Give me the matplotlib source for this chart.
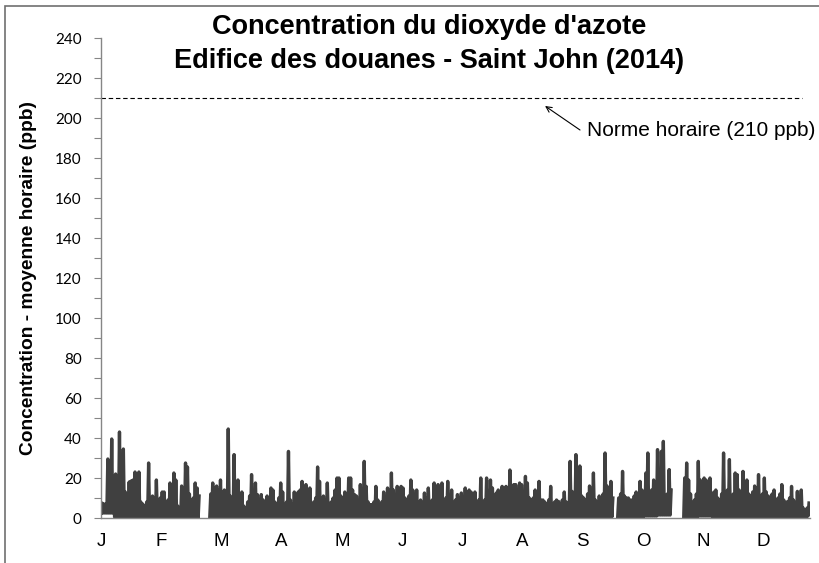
"""
Concentration du dioxyde d'azote - Edifice des douanes, Saint John (2014)
Moyenne horaire, lue jour par jour sur le graphique original.
"""

import matplotlib

matplotlib.use("Agg")
import matplotlib.pyplot as plt
import numpy as np
from matplotlib.patches import Rectangle

# Pic journalier (ppb), jour 0 = 1er janvier ; nan = pas de données
nan = np.nan
daily_peak = [
    7.5, 7, 7, 29.5, 8, 39.5, 10, 22, 12, 43,
    14, 34.5, 13, 12, 18, 18.5, 19, 23, 10, 23,
    8, 7, 6, 8, 27.5, 9, 11, 8, 19, 9,
    10, 13, 13, 8, 9, 17.5, 10, 22.5, 19, 6,
    4, 16, 10, 27.5, 25.5, 12, 8, 10, 17.5, 15,
    11, nan, nan, nan, nan, nan, 12, 17.5, 15, 16,
    14, 19, 12, 14, 10, 44.5, 11, 9, 31.7, 12,
    19, 9, 13, 6, 4, 8, 11, 21.7, 10, 17.5,
    11.7, 7, 11.7, 9, 7, 11, 9, 15, 14, 8,
    7, 10, 17.5, 13, 6, 8, 33.3, 9, 7, 13,
    10, 13, 14, 18.3, 12, 16.7, 6, 15, 6, 8,
    10, 25.5, 18.3, 9, 11, 8, 17.5, 6, 8, 10,
    14, 20, 20, 11, 9, 13, 10, 20, 20, 14,
    11.7, 11, 8, 16.7, 12, 28.3, 15.8, 8, 6.7, 6.7,
    8, 15.8, 9, 5.8, 8, 13, 10, 15, 9, 22.5,
    14, 10, 15.8, 12, 15.8, 15, 10, 7.5, 11, 19,
    14, 10, 14, 8, 9, 7.5, 12.5, 10, 15, 4,
    9, 17.5, 12, 16.7, 10, 17.5, 7.5, 10, 18.3, 11,
    14, 7.5, 9, 11.7, 10, 12.5, 7.5, 15, 10, 14,
    13, 9, 13, 8.3, 9, 20, 5.8, 9, 20, 12,
    19, 15, 11, 12.5, 14, 10, 15.8, 11, 15.8, 7.5,
    24, 11, 16.7, 16.7, 10, 17.5, 16.7, 10, 20.8, 17.5,
    10, 9, 10, 14, 10, 18.3, 9, 9, 8, 5,
    9, 15.8, 6.7, 8, 9, 8.3, 7, 9, 13, 8,
    7.5, 28.3, 13.3, 12, 31.7, 12, 26, 11, 10, 9,
    12, 16, 10, 22.5, 9, 8, 11, 10, 12, 32.5,
    16, 11, 18.3, 10, nan, nan, 10, 12, 23.3, 11,
    10, 10, 9, 9, 11, 13, 12, 18.3, 14, 12,
    22.5, 32.5, 12.5, 14, 19, 16, 34.2, 20, 33.3, 38.3,
    9, 12, 24.2, 14, nan, nan, nan, nan, nan, nan,
    20, 27.5, 19, 12, 7.5, 9, 12, 28.3, 19, 15,
    20, 19, 14, 20, 12, 13, 14, 10, 9, 12,
    32.5, 13, 14, 29.2, 11, 12, 22.5, 21.7, 14, 12.5,
    23.3, 14, 19, 12, 11, 13, 16, 12, 21.7, 11,
    12, 20, 13, 11, 10, 12, 14, 8, 10, 12,
    16.7, 9, 7.5, 8.3, 10, 15.8, 9, 7.5, 13.3, 10,
    14, 5, 4, 5, 7.5,
]

# Creux de la nuit, par semaine (ppb)
weekly_low = [
    2.5, 0.5, 0, 0.5, 0.5, 0, 0.5, 0, 0.5, 0,
    0, 0, 0.5, 0, 0, 0.5, 0, 0, 0.5, 0.5,
    0, 0, 0.5, 0.5, 0.5, 0.5, 0, 0.5, 0.5, 0.5,
    0.5, 0.5, 0, 0.5, 0.5, 0, 0.5, 0.5, 0.5, 0.5,
    1, 1.5, 0.5, 0.5, 1, 0.5, 0.5, 0.5, 0.5, 0,
    0.5, 0, 1,
]

month_labels = ["J", "F", "M", "A", "M", "J", "J", "A", "S", "O", "N", "D"]
norme_horaire = 210  # ppb

# Série : un creux puis un pic pour chaque jour
peak = np.array(daily_peak, dtype=float)
low = np.repeat(weekly_low, 7)[: len(peak)].astype(float)
low[np.isnan(peak)] = np.nan
days = np.arange(len(peak))
x = np.column_stack([days, days + 0.5]).ravel()
y = np.column_stack([low, peak]).ravel()

fig = plt.figure(figsize=(8.2, 5.63), dpi=100)
ax = fig.add_axes([0.1232, 0.0799, 0.8646, 0.8526])

ax.plot(x, y, color="#404040", linewidth=2.4, solid_joinstyle="round")

# Norme horaire
ax.axhline(norme_horaire, xmin=0, xmax=0.989, color="black", linestyle=(0, (4, 2.5)),
           linewidth=0.8)
ax.annotate("", xy=(228.6, 206), xytext=(246.6, 194),
            arrowprops=dict(arrowstyle="->", color="black", lw=0.8,
                            shrinkA=0, shrinkB=0))
ax.text(250, 194, "Norme horaire (210 ppb)", fontsize=15,
        family="Liberation Sans", va="center", ha="left")

ax.set_xlim(0, 365)
ax.set_ylim(0, 240)

# Axe y : graduations principales tous les 20, secondaires tous les 10
ax.set_yticks(np.arange(0, 241, 20))
ax.set_yticks(np.arange(0, 241, 10), minor=True)
ax.tick_params(axis="y", which="both", direction="out", length=5, width=0.8,
               color="#868686", pad=9)
for lab in ax.get_yticklabels():
    lab.set_family("Lato")
    lab.set_fontsize(11)

# Axe x : une lettre tous les 31 jours
ax.set_xticks(np.arange(len(month_labels)) * 31)
ax.set_xticklabels(month_labels, family="Liberation Sans", fontsize=13.5)
ax.tick_params(axis="x", length=0, pad=11)

for side in ["top", "right"]:
    ax.spines[side].set_visible(False)
for side in ["left", "bottom"]:
    ax.spines[side].set_color("#868686")
    ax.spines[side].set_linewidth(1.0)

ax.set_ylabel("Concentration - moyenne horaire (ppb)", family="Liberation Sans",
              fontsize=13.8, fontweight="bold")
ax.yaxis.set_label_coords(-0.090, 0.5)

fig.text(0.523, 0.976,
         "Concentration du dioxyde d'azote\nEdifice des douanes - Saint John (2014)",
         ha="center", va="top", family="Liberation Sans", fontsize=19.5,
         fontweight="bold", linespacing=1.42)

# Cadre du graphique (coupé à droite et en bas)
fig.patches.append(Rectangle((5 / 820, -0.1), 1.2, 1 - 6.5 / 563 + 0.1,
                             transform=fig.transFigure, fill=False,
                             edgecolor="#6f6f6f", linewidth=1.2))

fig.savefig("out.png", dpi=100)
